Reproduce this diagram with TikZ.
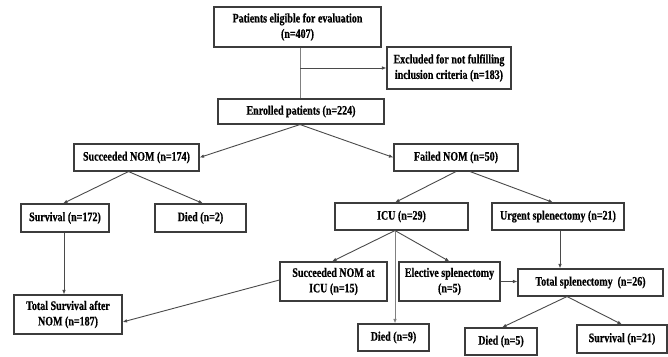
\documentclass[tikz,border=0pt]{standalone}
\usepackage{fontspec}
\setmainfont[FakeStretch=0.77,FakeBold=0.6]{Liberation Serif}
\usetikzlibrary{arrows.meta}
\definecolor{boxline}{HTML}{3C3C3C}
\definecolor{conn}{HTML}{4A4A4A}
\begin{document}
\begin{tikzpicture}[x=1pt,y=-1pt,
  box/.style={draw=boxline,line width=1.1pt,fill=white,inner sep=1pt,align=center,
    font=\fontsize{13}{15.5}\selectfont\bfseries},
  arr/.style={draw=conn,line width=0.9pt,-{Latex[length=4.5pt,width=3.6pt]}},
  ln/.style={draw=conn,line width=0.9pt}]
\useasboundingbox (0,0) rectangle (668,356);
\node[box,minimum width=167pt,minimum height=40pt] (elig) at (297.5,27) {Patients eligible for evaluation\\(n=407)};
\node[box,minimum width=124pt,minimum height=42pt] (excl) at (449,68) {Excluded for not fulfilling\\inclusion criteria (n=183)};
\node[box,minimum width=166pt,minimum height=25pt] (enr) at (301,111.5) {Enrolled patients (n=224)};
\node[box,minimum width=125pt,minimum height=27pt] (sn) at (136.5,157.5) {Succeeded NOM (n=174)};
\node[box,minimum width=124pt,minimum height=27pt] (fn) at (456,157.5) {Failed NOM (n=50)};
\node[box,minimum width=88pt,minimum height=28pt] (surv) at (65,218) {Survival (n=172)};
\node[box,minimum width=91pt,minimum height=28pt] (died2) at (200.5,218) {Died (n=2)};
\node[box,minimum width=108pt,minimum height=39pt] (tot) at (68,314.5) {Total Survival after\\NOM (n=187)};
\node[box,minimum width=133pt,minimum height=27pt] (icu) at (401.5,216.5) {ICU (n=29)};
\node[box,minimum width=132pt,minimum height=27pt] (urg) at (558,216.5) {Urgent splenectomy (n=21)};
\node[box,minimum width=107pt,minimum height=39pt] (snicu) at (333.5,281.5) {Succeeded NOM at\\ICU (n=15)};
\node[box,minimum width=101pt,minimum height=39pt] (elec) at (449.5,281.5) {Elective splenectomy\\(n=5)};
\node[box,minimum width=71pt,minimum height=27pt] (died9) at (393.5,337.5) {Died (n=9)};
\node[box,minimum width=145pt,minimum height=27pt] (tots) at (590.5,282.5) {Total splenectomy\ \ (n=26)};
\node[box,minimum width=72pt,minimum height=27pt] (died5) at (501,341.5) {Died (n=5)};
\node[box,minimum width=90pt,minimum height=28pt] (surv21) at (622,339) {Survival (n=21)};
% connectors
\coordinate (e1) at ([xshift=2.5pt]elig.south);
\draw[ln,draw=gray] (e1) -- (e1 |- enr.north);
\draw[arr] (e1 |- excl.west) -- (excl.west);
\draw[arr] ([xshift=-1pt]enr.south) -- (sn.east);
\draw[arr] ([xshift=-1pt]enr.south) -- (fn.west);
\coordinate (s1) at ([xshift=-8pt]sn.south);
\draw[arr] (s1) -- ([xshift=-2pt]surv.north);
\draw[arr] (s1) -- ([xshift=2.5pt]died2.north);
\draw[arr] ([xshift=-1pt]surv.south) -- ([xshift=-1pt]surv.south |- tot.north);
\draw[arr] (fn.south) -- ([xshift=-6.5pt]icu.north);
\draw[arr] ([xshift=14pt]fn.south) -- ([xshift=-5pt]urg.north);
\coordinate (i1) at ([xshift=-6.5pt]icu.south);
\draw[arr] (i1) -- ([xshift=-1.5pt]snicu.north);
\draw[arr] (i1) -- (elec.north);
\draw[arr,draw=gray] (i1) -- (i1 |- died9.north);
\draw[arr] ([xshift=2pt]urg.south) -- ([xshift=2pt]urg.south |- tots.north);
\draw[arr] (elec.east) -- (elec.east -| tots.west);
\coordinate (t1) at ([xshift=-23.5pt]tots.south);
\draw[arr] (t1) -- ([xshift=1pt]died5.north);
\draw[arr] (t1) -- (surv21.north);
\draw[arr] ([yshift=1.5pt]snicu.west) -- ([yshift=-7.5pt]tot.east);
\end{tikzpicture}
\end{document}
